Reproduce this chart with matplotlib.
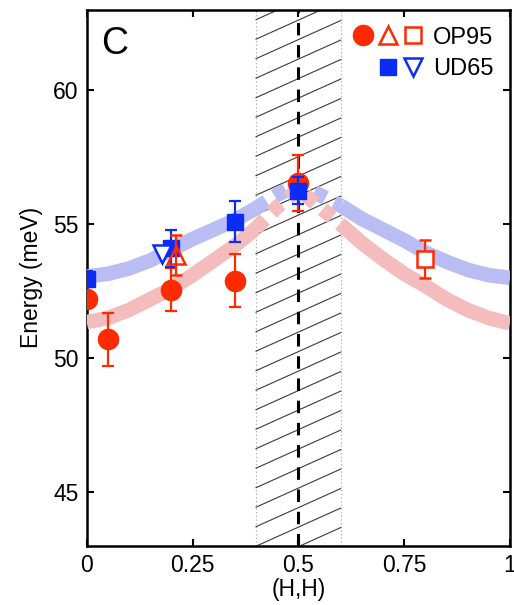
import numpy as np
import matplotlib
matplotlib.use('Agg')
import matplotlib.pyplot as plt
from matplotlib.lines import Line2D
from matplotlib.legend_handler import HandlerTuple

plt.rcParams['font.family'] = ['Liberation Sans', 'DejaVu Sans']
plt.rcParams['lines.scale_dashes'] = False

# guide-to-eye bands (step 0.05 in H)
band_h = [0.00, 0.05, 0.10, 0.15, 0.20, 0.25, 0.30, 0.35, 0.40, 0.45, 0.50,
          0.55, 0.60, 0.65, 0.70, 0.75, 0.80, 0.85, 0.90, 0.95, 1.00]
band_ud65 = [53.05, 53.15, 53.35, 53.65, 54.05, 54.45, 54.8, 55.15, 55.6, 56.1, 56.5,
             56.1, 55.7, 55.2, 54.8, 54.4, 53.95, 53.6, 53.3, 53.1, 53.0]
band_op95 = [51.35, 51.5, 51.8, 52.2, 52.6, 53.1, 53.65, 54.2, 54.85, 55.65, 56.3,
             55.65, 55.0, 54.3, 53.7, 53.15, 52.7, 52.2, 51.8, 51.5, 51.3]

# OP95 data
op_circ_h = [0.0, 0.05, 0.2, 0.35, 0.5]
op_circ_e = [52.2, 50.7, 52.55, 52.9, 56.55]
op_circ_err = [0.0, 1.0, 0.8, 1.0, 1.05]
op_tri_h = [0.21]
op_tri_e = [53.85]
op_tri_err = [0.75]
op_sq_h = [0.8]
op_sq_e = [53.7]
op_sq_err = [0.7]

# UD65 data
ud_sq_h = [0.0, 0.2, 0.35, 0.5]
ud_sq_e = [52.95, 54.1, 55.1, 56.25]
ud_sq_err = [0.3, 0.7, 0.77, 0.5]
ud_tri_h = [0.177]
ud_tri_e = [53.9]

red = '#ff2a00'
blue = '#0a2cf5'
red_band = '#f4bcbc'
blue_band = '#babdf3'
zone = (0.4, 0.6)

fig = plt.figure(figsize=(5.14, 6.05), dpi=100)
ax = fig.add_axes([0.1687, 0.098, 0.8235, 0.8855])

# hatched zone
ax.axvline(zone[0], color='#b0b0b0', lw=0.8, ls=':', zorder=1)
ax.axvline(zone[1], color='#b0b0b0', lw=0.8, ls=':', zorder=1)
W, H = 423.3, 535.7
slope = 0.45 * W / H
step = 19.5 / H
for k in range(-10, 40):
    y0 = 0.0355 + k * step
    ax.plot([zone[0], zone[1]], [y0, y0 + slope * (zone[1] - zone[0])],
            transform=ax.transAxes, color='#3a3a3a', lw=0.8, zorder=1)

ax.axvline(0.5, color='black', lw=2.2, ls=(0, (9, 7)), zorder=2)

# bands: solid outside the zone, dashed inside
bh = np.array(band_h)
for vals, col in [(band_ud65, blue_band), (band_op95, red_band)]:
    v = np.array(vals)
    left = bh <= zone[0] + 1e-9
    right = bh >= zone[1] - 1e-9
    mid = (bh >= zone[0] - 1e-9) & (bh <= zone[1] + 1e-9)
    for m in (left, right):
        ax.plot(bh[m], v[m], color=col, lw=10.5, solid_capstyle='butt',
                solid_joinstyle='round', zorder=3)
    ax.plot(bh[mid], v[mid], color=col, lw=10.5, ls=(0, (9, 7)),
            dash_capstyle='butt', zorder=3)

ekw = dict(capsize=4.5, capthick=1.6, elinewidth=1.6, linestyle='none')
ax.errorbar(op_circ_h, op_circ_e, yerr=op_circ_err, marker='o', ms=14.5,
            color=red, mec=red, zorder=5, **ekw)
ax.errorbar(ud_sq_h, ud_sq_e, yerr=ud_sq_err, marker='s', ms=11.5,
            color=blue, mec=blue, zorder=6, **ekw)
ax.errorbar(ud_tri_h, ud_tri_e, marker='v', ms=12.5, mfc='white', mew=1.8,
            color=blue, mec=blue, zorder=7, linestyle='none')
ax.errorbar(op_tri_h, op_tri_e, yerr=op_tri_err, marker='^', ms=12.5, mfc='none',
            mew=1.8, color=red, mec=red, zorder=8, **ekw)
ax.errorbar(op_sq_h, op_sq_e, yerr=op_sq_err, marker='s', ms=11, mfc='white',
            mew=1.8, color=red, mec=red, zorder=8, **ekw)

ax.set_xlim(0, 1)
ax.set_ylim(43, 63)
ax.set_xticks([0, 0.25, 0.5, 0.75, 1])
ax.set_xticklabels(['0', '0.25', '0.5', '0.75', '1'])
ax.set_yticks([45, 50, 55, 60])
ax.tick_params(direction='in', length=5, width=1.5, labelsize=16.5,
               top=True, right=True, pad=6)
for s in ax.spines.values():
    s.set_linewidth(1.8)
ax.set_xlabel('(H,H)', fontsize=16.5, labelpad=1)
ax.set_ylabel('Energy (meV)', fontsize=16.5, labelpad=7)

ax.text(0.035, 0.97, 'C', transform=ax.transAxes, fontsize=27,
        ha='left', va='top')

# legend
blank = Line2D([], [], linestyle='none', marker='none')
h_circ = Line2D([], [], linestyle='none', marker='o', ms=14.5, color=red)
h_tri = Line2D([], [], linestyle='none', marker='^', ms=12.5, mfc='none', mec=red, mew=1.8)
h_osq = Line2D([], [], linestyle='none', marker='s', ms=11, mfc='none', mec=red, mew=1.8)
h_bsq = Line2D([], [], linestyle='none', marker='s', ms=11.5, color=blue)
h_btri = Line2D([], [], linestyle='none', marker='v', ms=12.5, mfc='none', mec=blue, mew=1.8)
ax.legend([(h_circ, h_tri, h_osq), (blank, h_bsq, h_btri)], ['OP95', 'UD65'],
          handler_map={tuple: HandlerTuple(ndivide=None, pad=0)},
          loc='upper right', frameon=False, fontsize=17, handlelength=3.2,
          handletextpad=0.3, labelspacing=0.4, borderaxespad=0.3)

fig.savefig('out.png', dpi=100)
